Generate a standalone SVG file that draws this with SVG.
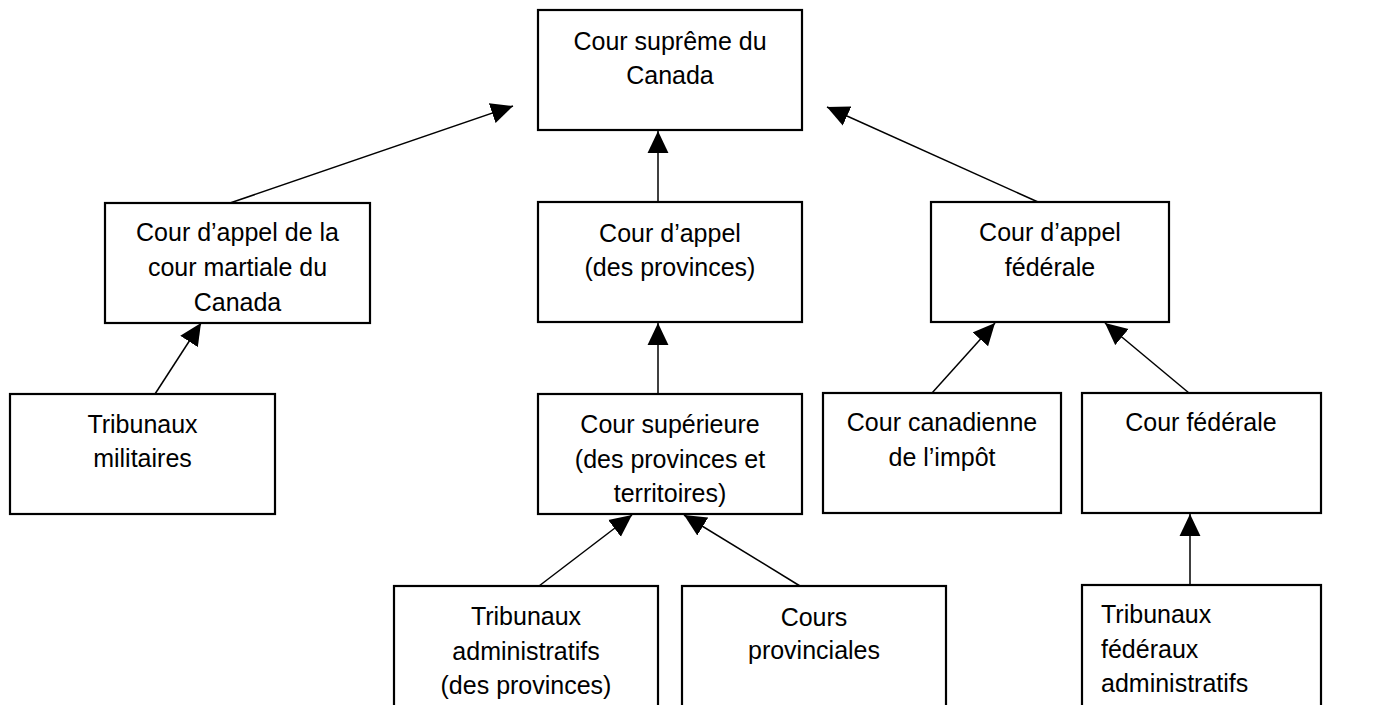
<svg xmlns="http://www.w3.org/2000/svg" width="1381" height="705" viewBox="0 0 1381 705">
  <style>
    .box { fill: #ffffff; stroke: #000000; stroke-width: 2.2; }
    .lbl { font-family: "Liberation Sans", Arial, sans-serif; font-size: 25px; fill: #000000; text-anchor: middle; }
    .lbl.left { text-anchor: start; }
    .edge { stroke: #000000; stroke-width: 1.5; fill: none; marker-end: url(#arrow); }
  </style>
  <defs>
    <marker id="arrow" markerUnits="userSpaceOnUse" markerWidth="22" markerHeight="22" viewBox="0 0 20 20" refX="20" refY="10" orient="auto">
      <path d="M0,0.5 L20,10 L0,19.5 Z" fill="#000000"/>
    </marker>
  </defs>
  <rect width="1381" height="705" fill="#ffffff"/>

  <g id="connectors">
    <line class="edge" x1="230" y1="203" x2="513" y2="106"/>
    <line class="edge" x1="658" y1="202" x2="658" y2="131"/>
    <line class="edge" x1="1038" y1="202" x2="827" y2="107"/>
    <line class="edge" x1="155" y1="394" x2="201" y2="323"/>
    <line class="edge" x1="658" y1="394" x2="658" y2="323"/>
    <line class="edge" x1="932" y1="393" x2="995" y2="323"/>
    <line class="edge" x1="1189" y1="393" x2="1105" y2="323"/>
    <line class="edge" x1="1190" y1="585" x2="1190" y2="514"/>
    <line class="edge" x1="539" y1="586" x2="632" y2="515"/>
    <line class="edge" x1="800" y1="586" x2="684" y2="515"/>
  </g>

  <g id="cour-supreme">
    <rect class="box" x="538" y="10" width="264" height="120"/>
    <text class="lbl" x="670" y="50">Cour suprême du</text>
    <text class="lbl" x="670" y="84">Canada</text>
  </g>

  <g id="cour-appel-martiale">
    <rect class="box" x="105" y="203" width="265" height="120"/>
    <text class="lbl" x="237.5" y="241">Cour d’appel de la</text>
    <text class="lbl" x="237.5" y="276">cour martiale du</text>
    <text class="lbl" x="237.5" y="311">Canada</text>
  </g>

  <g id="cour-appel-provinces">
    <rect class="box" x="538" y="202" width="264" height="120"/>
    <text class="lbl" x="670" y="241.5">Cour d’appel</text>
    <text class="lbl" x="670" y="276">(des provinces)</text>
  </g>

  <g id="cour-appel-federale">
    <rect class="box" x="931" y="202" width="238" height="120"/>
    <text class="lbl" x="1050" y="241">Cour d’appel</text>
    <text class="lbl" x="1050" y="276">fédérale</text>
  </g>

  <g id="tribunaux-militaires">
    <rect class="box" x="10" y="394" width="265" height="120"/>
    <text class="lbl" x="142.5" y="433">Tribunaux</text>
    <text class="lbl" x="142.5" y="467">militaires</text>
  </g>

  <g id="cour-superieure">
    <rect class="box" x="538" y="394" width="264" height="120"/>
    <text class="lbl" x="670" y="433">Cour supérieure</text>
    <text class="lbl" x="670" y="468">(des provinces et</text>
    <text class="lbl" x="670" y="502">territoires)</text>
  </g>

  <g id="cour-canadienne-impot">
    <rect class="box" x="823" y="393" width="238" height="120"/>
    <text class="lbl" x="942" y="431">Cour canadienne</text>
    <text class="lbl" x="942" y="466">de l’impôt</text>
  </g>

  <g id="cour-federale">
    <rect class="box" x="1082" y="393" width="239" height="120"/>
    <text class="lbl" x="1201" y="431">Cour fédérale</text>
  </g>

  <g id="tribunaux-administratifs">
    <rect class="box" x="394" y="586" width="264" height="130"/>
    <text class="lbl" x="526" y="625">Tribunaux</text>
    <text class="lbl" x="526" y="660">administratifs</text>
    <text class="lbl" x="526" y="694">(des provinces)</text>
  </g>

  <g id="cours-provinciales">
    <rect class="box" x="682" y="586" width="264" height="130"/>
    <text class="lbl" x="814" y="626">Cours</text>
    <text class="lbl" x="814" y="659">provinciales</text>
  </g>

  <g id="tribunaux-federaux">
    <rect class="box" x="1082" y="585" width="239" height="130"/>
    <text class="lbl left" x="1101" y="623">Tribunaux</text>
    <text class="lbl left" x="1101" y="658">fédéraux</text>
    <text class="lbl left" x="1101" y="692">administratifs</text>
  </g>
</svg>
